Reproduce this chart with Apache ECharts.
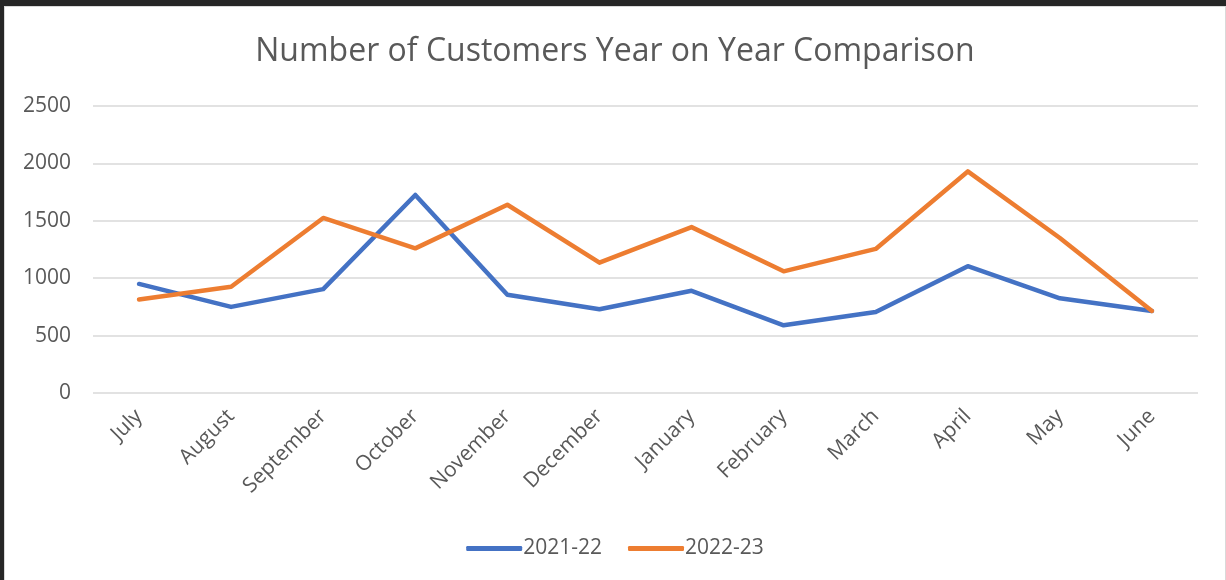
<!DOCTYPE html>
<html>
<head>
<meta charset="utf-8">
<script src="https://cdn.jsdelivr.net/npm/echarts@6/dist/echarts.min.js"></script>
<style>
  html, body { margin: 0; padding: 0; background: #262626; }
  #frame { position: absolute; left: 4px; top: 6px; width: 1220px; height: 574px; background: #fff; border-top: 1px solid #d9d9d9; border-left: 1px solid #d9d9d9; border-right: 1px solid #d9d9d9; }
  #main { width: 1220px; height: 574px; }
</style>
</head>
<body>
<div id="frame"><div id="main"></div></div>
<script>
var months = ['July', 'August', 'September', 'October', 'November', 'December', 'January', 'February', 'March', 'April', 'May', 'June'];
var fy2122 = [950, 750, 905, 1725, 855, 730, 890, 590, 705, 1105, 825, 715];
var fy2223 = [815, 925, 1525, 1260, 1640, 1135, 1445, 1060, 1255, 1930, 1350, 715];

var myChart = echarts.init(document.getElementById('main'));
var option = {
  animation: false,
  title: {
    text: 'Number of Customers Year on Year Comparison',
    left: 'center',
    top: 24,
    textStyle: { fontFamily: 'Open Sans', fontSize: 32, fontWeight: 'normal', color: '#595959' }
  },
  legend: {
    bottom: 17,
    left: 'center',
    itemWidth: 56,
    itemHeight: 5,
    itemGap: 26,
    icon: 'roundRect',
    textStyle: { fontFamily: 'Open Sans', fontSize: 21, color: '#595959', padding: [0, 0, 0, -4] },
    data: ['2021-22', '2022-23']
  },
  grid: { left: 88, right: 27, top: 99, bottom: 188 },
  xAxis: {
    type: 'category',
    data: months,
    boundaryGap: true,
    axisLine: { show: false },
    axisTick: { show: false },
    axisLabel: { rotate: 45, margin: 20, fontFamily: 'Open Sans', fontSize: 21, color: '#595959', interval: 0 }
  },
  yAxis: {
    type: 'value',
    min: 0,
    max: 2500,
    interval: 500,
    axisLine: { show: false },
    axisTick: { show: false },
    axisLabel: { fontFamily: 'Open Sans', fontSize: 21, color: '#595959', margin: 22, formatter: function (v) { return String(v); } },
    splitLine: { lineStyle: { color: '#d9d9d9', width: 1.5 } }
  },
  series: [
    { name: '2021-22', type: 'line', data: fy2122, showSymbol: false, symbol: 'none',
      itemStyle: { color: '#4472C4' }, lineStyle: { color: '#4472C4', width: 4.5, join: 'round', cap: 'round' } },
    { name: '2022-23', type: 'line', data: fy2223, showSymbol: false, symbol: 'none',
      itemStyle: { color: '#ED7D31' }, lineStyle: { color: '#ED7D31', width: 4.5, join: 'round', cap: 'round' } }
  ]
};
myChart.setOption(option);
</script>
</body>
</html>
